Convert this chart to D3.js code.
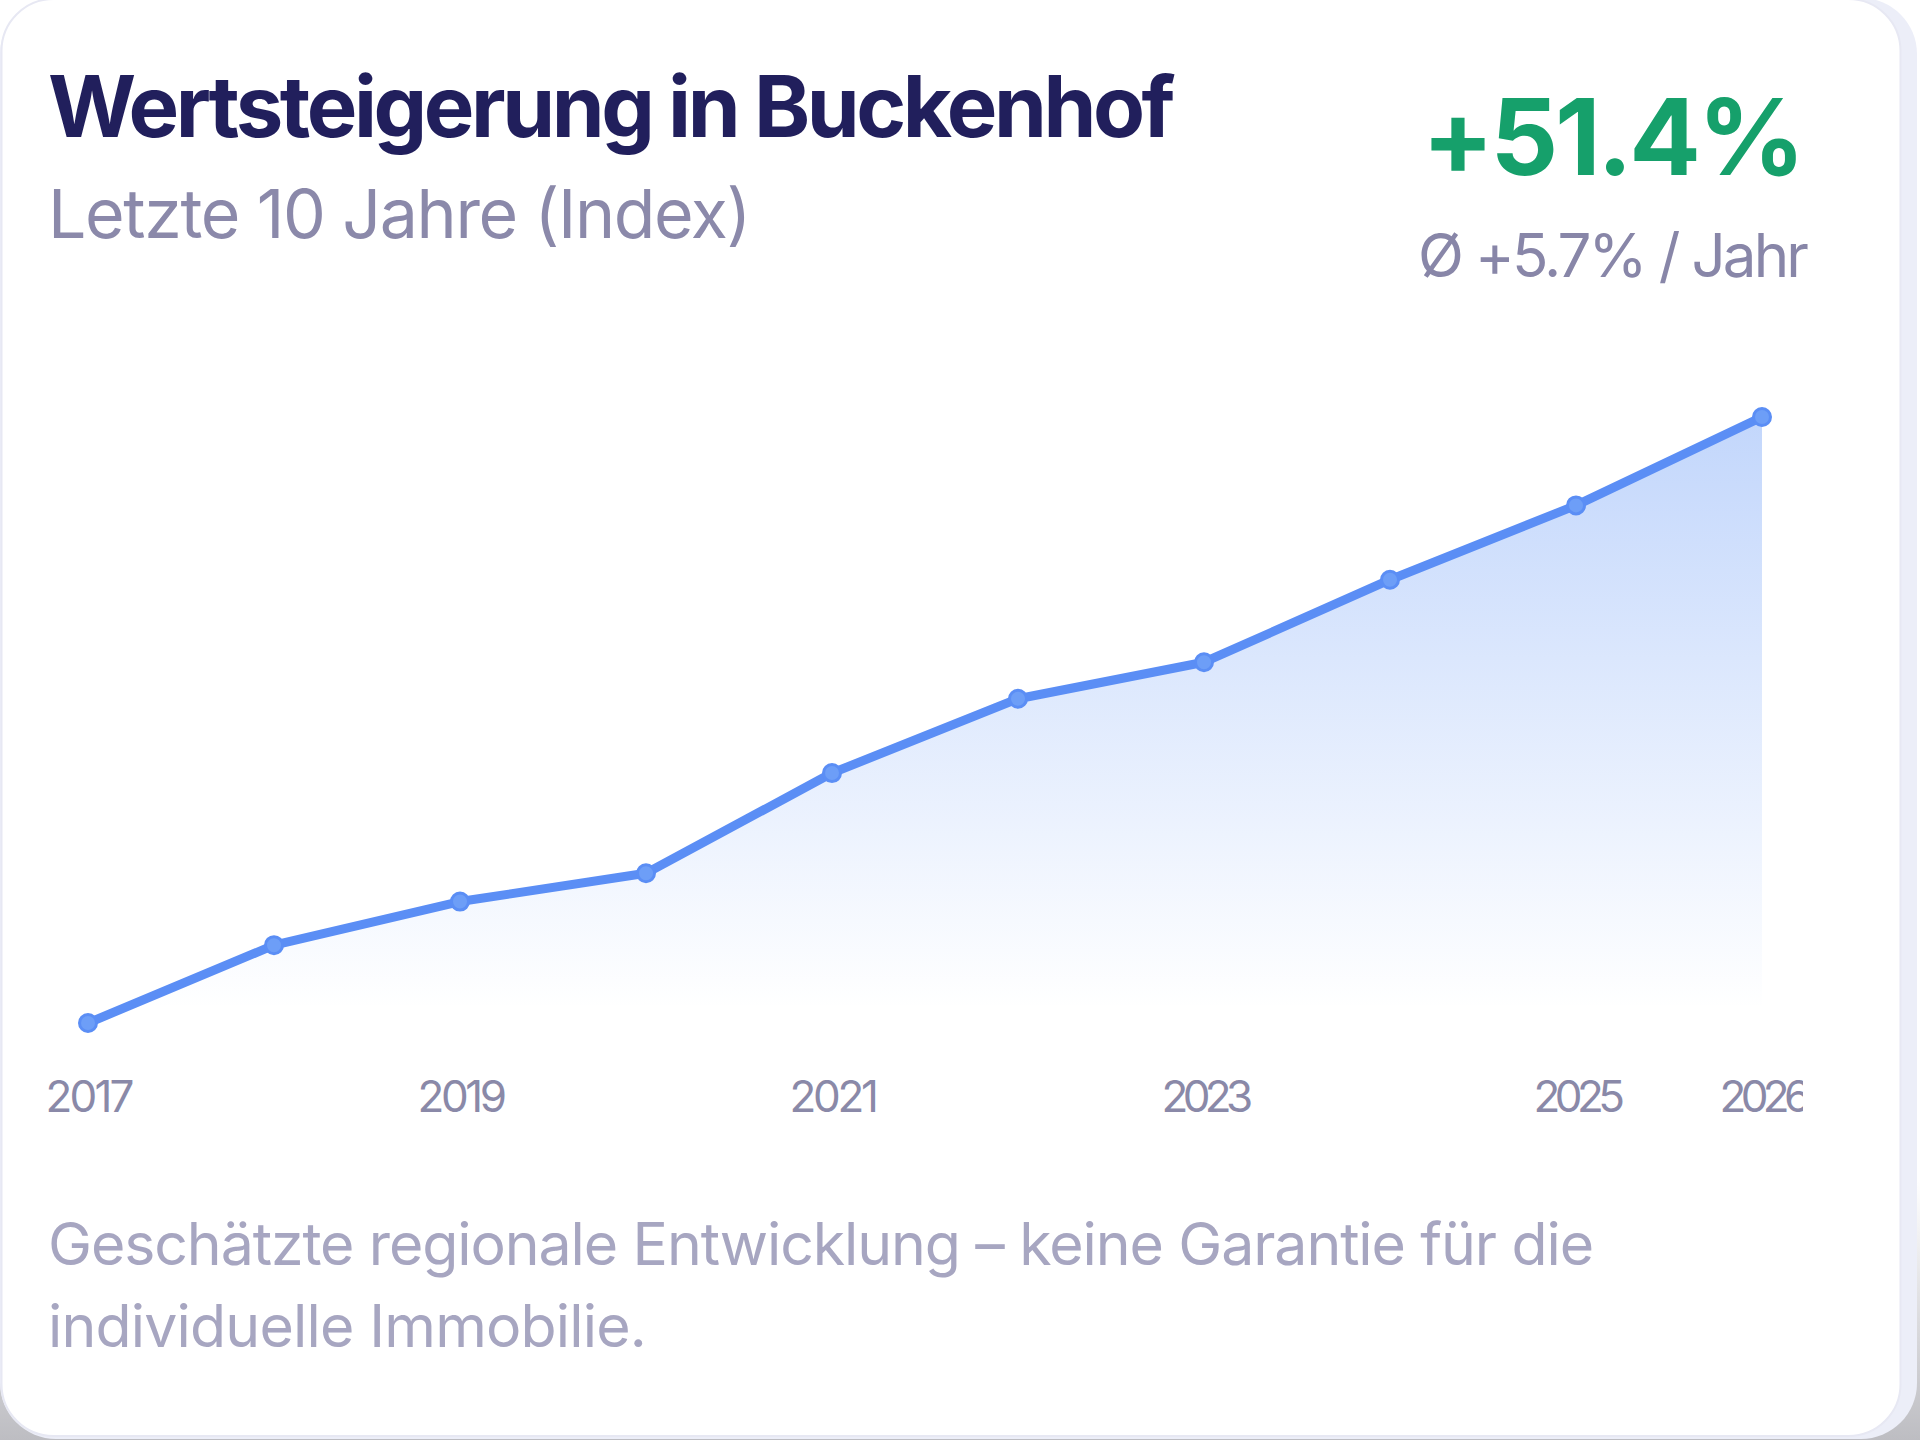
<!DOCTYPE html>
<html>
<head>
<meta charset="utf-8">
<script src="https://cdn.jsdelivr.net/npm/d3@7"></script>
<style>
  html, body { margin: 0; padding: 0; }
  body { width: 1920px; height: 1440px; overflow: hidden;
         background: linear-gradient(#ffffff 0%, #ffffff 82%, #bdbdc2 100%); }
  svg { display: block; font-family: Inter, "Noto Sans", sans-serif; }
</style>
</head>
<body>
<svg class="chart" width="1920" height="1440"></svg>
<script>
// index values (2017 = 100)
var years = [2017, 2018, 2019, 2020, 2021, 2022, 2023, 2024, 2025, 2026]
var values = [100, 106.6, 110.3, 112.7, 121.2, 127.5, 130.6, 137.6, 143.9, 151.4]
var tick_years = [2017, 2019, 2021, 2023, 2025, 2026]

var title = "Wertsteigerung in Buckenhof"
var subtitle = "Letzte 10 Jahre (Index)"
var total_change = "+51.4%"
var yearly_change = "Ø +5.7% / Jahr"
var note_lines = ["Geschätzte regionale Entwicklung – keine Garantie für die",
                  "individuelle Immobilie."]

var line_col = "#5b8ef5"

var data = years.map(function(d, i) { return {year: d, value: values[i]} })

var svg = d3.select(".chart")

// card
svg.append("rect")
  .attr("x", 0).attr("y", -2).attr("width", 1917).attr("height", 1441)
  .attr("rx", 56)
  .attr("fill", "#eceef8")
svg.append("rect")
  .attr("x", 1.5).attr("y", -1).attr("width", 1899).attr("height", 1437)
  .attr("rx", 52)
  .attr("fill", "#ffffff")
  .attr("stroke", "#e7e8f3")
  .attr("stroke-width", 2)

// squeeze text to the width it has in the picture
function fitWidth(sel, target) {
    sel.each(function() {
        var n = this.getNumberOfChars()
        var w = this.getComputedTextLength()
        d3.select(this).attr("letter-spacing", ((target - w) / n) + "px")
    })
}

svg.append("text")
  .attr("x", 48).attr("y", 137)
  .attr("font-size", 85).attr("font-weight", 700)
  .attr("fill", "#211f5c")
  .text(title)
  .call(fitWidth, 1124)

svg.append("text")
  .attr("x", 48).attr("y", 238)
  .attr("font-size", 68).attr("font-weight", 400)
  .attr("fill", "#8b89aa")
  .text(subtitle)
  .call(fitWidth, 702)

svg.append("text")
  .attr("x", 1802).attr("y", 175)
  .attr("text-anchor", "end")
  .attr("font-size", 106).attr("font-weight", 700)
  .attr("fill", "#16a06b")
  .text(total_change)
  .call(fitWidth, 380)

svg.append("text")
  .attr("x", 1806).attr("y", 277)
  .attr("text-anchor", "end")
  .attr("font-size", 60).attr("font-weight", 400)
  .attr("fill", "#8886a8")
  .text(yearly_change)
  .call(fitWidth, 388)

// scales
var x = d3.scaleLinear()
    .domain(d3.extent(years))
    .range([88, 1762])

var y = d3.scaleLinear()
    .domain(d3.extent(values))
    .range([1023, 417])

var defs = svg.append("defs")
var grad = defs.append("linearGradient")
  .attr("id", "fade")
  .attr("gradientUnits", "userSpaceOnUse")
  .attr("x1", 0).attr("x2", 0)
  .attr("y1", y(d3.max(values))).attr("y2", y(d3.min(values)) - 14)
grad.append("stop").attr("offset", 0).attr("stop-color", "#3b7cf4").attr("stop-opacity", 0.31)
grad.append("stop").attr("offset", 1).attr("stop-color", "#3b7cf4").attr("stop-opacity", 0)

// the last year label is cut off by the plot edge
defs.append("clipPath").attr("id", "axisclip")
  .append("rect").attr("x", 0).attr("y", 1040).attr("width", 1803).attr("height", 120)

var area = d3.area()
    .x(function(d) { return x(d.year) })
    .y0(y(d3.min(values)) - 14)
    .y1(function(d) { return y(d.value) })

var line = d3.line()
    .x(function(d) { return x(d.year) })
    .y(function(d) { return y(d.value) })

svg.append("path")
  .datum(data)
  .attr("d", area)
  .attr("fill", "url(#fade)")

svg.append("path")
  .datum(data)
  .attr("d", line)
  .attr("fill", "none")
  .attr("stroke", line_col)
  .attr("stroke-width", 9)
  .attr("stroke-linejoin", "round")
  .attr("stroke-linecap", "round")

svg.selectAll(".pt")
  .data(data)
  .enter()
  .append("circle")
  .attr("class", "pt")
  .attr("cx", function(d) { return x(d.year) })
  .attr("cy", function(d) { return y(d.value) })
  .attr("r", 8.5)
  .attr("fill", "#6d9ef7")
  .attr("stroke", line_col)
  .attr("stroke-width", 3)

// x axis, labels only
var axis = svg.append("g")
  .attr("clip-path", "url(#axisclip)")
  .append("g")
  .attr("transform", "translate(0,1080)")
  .call(d3.axisBottom(x)
      .tickValues(tick_years)
      .tickFormat(d3.format("d"))
      .tickSize(0)
      .tickPadding(0))

axis.select(".domain").remove()
axis.selectAll("text")
  .attr("dy", null)
  .attr("y", 32)
  .attr("font-family", "Inter, sans-serif")
  .attr("font-size", 44)
  .attr("fill", "#8a89a8")
  .call(fitWidth, 86)

// footnote
svg.selectAll(".note")
  .data(note_lines)
  .enter()
  .append("text")
  .attr("class", "note")
  .attr("x", 48)
  .attr("y", function(d, i) { return 1265 + i * 82 })
  .attr("font-size", 59)
  .attr("fill", "#a7a6c1")
  .text(function(d) { return d })

svg.selectAll(".note").filter(function(d, i) { return i == 0 }).call(fitWidth, 1545)
svg.selectAll(".note").filter(function(d, i) { return i == 1 }).call(fitWidth, 598)
</script>
</body>
</html>
